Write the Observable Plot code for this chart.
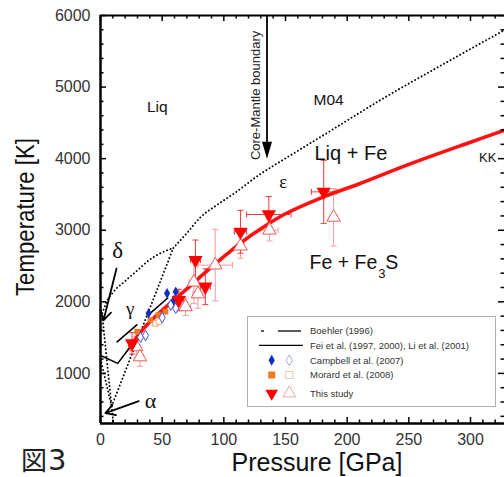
<!DOCTYPE html>
<html><head><meta charset="utf-8">
<script src="https://cdn.jsdelivr.net/npm/d3@7"></script>
<script src="https://cdn.jsdelivr.net/npm/@observablehq/plot@0.6"></script>
<style>
html,body{margin:0;padding:0;background:#fff;}
#wrap{position:relative;width:504px;height:477px;overflow:hidden;font-family:"Liberation Sans",Arial,sans-serif;}
#fig{position:absolute;left:21px;top:445px;font-family:"Noto Sans CJK JP";font-size:26px;color:#222;line-height:28px;height:29px;white-space:nowrap}
#fig span{font-family:"DejaVu Sans";font-size:29px;margin-left:1px}
#legend{position:absolute;left:247px;top:316px;width:249px;height:91px;border:1px solid #b0b0b0;background:#fff;box-sizing:border-box}
</style></head><body>
<div id="wrap"><div id="fig">図<span>3</span></div></div>
<script>
// ---------- data ----------
const xMajor = [0, 50, 100, 150, 200, 250, 300];
const yMajor = [1000, 2000, 3000, 4000, 5000, 6000];
const xMinor = [10,20,30,40,60,70,80,90,110,120,130,140,160,170,180,190,210,220,230,240,260,270,280,290,310,320];
const yMinor = [400,600,800,1200,1400,1600,1800,2200,2400,2600,2800,3200,3400,3600,3800,4200,4400,4600,4800,5200,5400,5600,5800];

// red fitted curve (this study)
const fitP = [24, 30, 40, 50, 60, 70, 85, 100, 115, 130, 150, 180, 210, 250, 300, 328];
const fitT = [1370, 1520, 1720, 1880, 2030, 2180, 2410, 2630, 2840, 3020, 3230, 3460, 3650, 3920, 4230, 4400];

// dotted phase boundaries
const meltLowP = [1.5, 5, 10, 20, 30, 40, 50, 59];
const meltLowT = [1840, 2000, 2130, 2290, 2440, 2590, 2690, 2750];
const m04P = [59, 70, 81, 95, 108, 130, 143, 180, 230, 280, 328];
const m04T = [2750, 2960, 3180, 3360, 3510, 3790, 3930, 4320, 4850, 5340, 5800];
const gammaEpsP = [9, 59];
const gammaEpsT = [540, 2750];
const deltaGammaP = [1.5, 9];
const deltaGammaT = [1800, 540];
const alphaGammaP = [0, 9];
const alphaGammaT = [1200, 540];
const alphaEpsP = [9, 10.5];
const alphaEpsT = [540, 300];

// black lines
const feiP = [0, 14, 24];
const feiT = [1250, 1140, 1370];
const boehlerP = [13.5, 62];
const boehlerT = [1440, 2165];

// this study: filled (down triangles) and open (up triangles)
const filledP  = [25.6, 63.5, 77, 85, 113.5, 136.5, 181];
const filledT  = [1420, 2025, 2583, 2211, 2978, 3220, 3536];
const filledPe = [3, 4, 4, 4, 5, 18, 10];
const filledTe = [150, 150, 280, 250, 300, 250, 440];
const openP  = [29, 32, 69, 75.7, 79, 93, 113.5, 137, 189];
const openT  = [1370, 1230, 1930, 2274, 2110, 2513, 2778, 3000, 3180];
const openPe = [3, 3, 4, 4, 4, 14, 3, 7, 3];
const openTe = [150, 130, 120, 300, 200, 500, 170, 150, 400];

// Campbell et al. (2007)
const campFP = [39, 54, 59.5, 61];
const campFT = [1840, 2118, 2025, 2141];
const campOP = [32.4, 36.5, 50, 57, 61];
const campOT = [1505, 1530, 1780, 1955, 1909];
// Morard et al. (2008)
const morFP = [29.7, 40.5, 47, 52.7];
const morFT = [1583, 1746, 1816, 1862];
const morOP = [44.6, 47.5];
const morOT = [1700, 1723];

// annotations
const labText = ["Liq", "M04", "Liq + Fe", "KK"];
const labP = [46, 185, 203, 314];
const labT = [4719, 4813, 4072, 4016];
const labSize = [15.5, 15.5, 20, 13];
const greekText = ["δ", "γ", "ε", "α"];
const greekP = [14, 24, 148, 40.5];
const greekT = [2717, 1907, 3667, 621];
const greekSize = [23, 19, 18, 22];
const cmbP = 135;           // core-mantle boundary pressure
const cmbTop = 6000, cmbTip = 4000;
const arrowsData = [
  {x1: 13, y1: 2465, x2: 2.4, y2: 1739},
  {x1: 31, y1: 612, x2: 4, y2: 444}
];

// ---------- helpers ----------
const pts = (P, T) => P.map((p, i) => ({p, t: T[i]}));
const errs = (P, T, Pe, Te) => P.map((p, i) => ({p, t: T[i], ep: Pe[i], et: Te[i]}));
const filled = errs(filledP, filledT, filledPe, filledTe);
const open = errs(openP, openT, openPe, openTe);

const W = 504, H = 477, mL = 100, mR = 0, mT = 15, mB = 54;
const pw = W - mL - mR, ph = H - mT - mB;
const xMax = pw / (370 / 300);

const headDown = {draw(ctx){ ctx.moveTo(-5,-17); ctx.lineTo(5,-17); ctx.lineTo(0,0); ctx.closePath(); }};
const hcap = {draw(ctx){ ctx.moveTo(-3,0); ctx.lineTo(3,0); }};
const vcap = {draw(ctx){ ctx.moveTo(0,-3); ctx.lineTo(0,3); }};

const dotted = {stroke: "#000", strokeWidth: 1.9, strokeDasharray: "0.1,3.6", strokeLinecap: "round"};
const sans = "Liberation Sans, Arial, sans-serif";
const serif = "Liberation Serif, Times New Roman, serif";

function errMarks(data, color, width) {
  return [
    Plot.ruleX(data, {x: "p", y1: d => d.t - d.et, y2: d => d.t + d.et, stroke: color, strokeWidth: width}),
    Plot.ruleY(data, {y: "t", x1: d => d.p - d.ep, x2: d => d.p + d.ep, stroke: color, strokeWidth: width}),
    Plot.dot(data, {x: "p", y: d => d.t - d.et, symbol: hcap, stroke: color, strokeWidth: width, r: 3}),
    Plot.dot(data, {x: "p", y: d => d.t + d.et, symbol: hcap, stroke: color, strokeWidth: width, r: 3}),
    Plot.dot(data, {x: d => d.p - d.ep, y: "t", symbol: vcap, stroke: color, strokeWidth: width, r: 3}),
    Plot.dot(data, {x: d => d.p + d.ep, y: "t", symbol: vcap, stroke: color, strokeWidth: width, r: 3})
  ];
}

const chart = Plot.plot({
  width: W, height: H,
  marginLeft: mL, marginRight: mR, marginTop: mT, marginBottom: mB,
  style: {fontFamily: sans, background: "white", overflow: "visible"},
  x: {domain: [0, xMax]},
  y: {domain: [300, 6000]},
  marks: [
    // phase boundaries (dotted)
    Plot.line(pts(meltLowP, meltLowT), {x: "p", y: "t", curve: "monotone-x", ...dotted}),
    Plot.line(pts(m04P, m04T), {x: "p", y: "t", curve: "monotone-x", ...dotted}),
    Plot.line(pts(gammaEpsP, gammaEpsT), {x: "p", y: "t", ...dotted}),
    Plot.line(pts(deltaGammaP, deltaGammaT), {x: "p", y: "t", ...dotted}),
    Plot.line(pts(alphaGammaP, alphaGammaT), {x: "p", y: "t", ...dotted}),
    Plot.line(pts(alphaEpsP, alphaEpsT), {x: "p", y: "t", ...dotted}),
    // black literature lines
    Plot.line(pts(feiP, feiT), {x: "p", y: "t", stroke: "#000", strokeWidth: 1.6}),
    Plot.line(pts(boehlerP, boehlerT), {x: "p", y: "t", stroke: "#000", strokeWidth: 1.6, strokeDasharray: "26,15"}),
    // error bars
    ...errMarks(open, "#f29a9a", 1),
    ...errMarks(filled, "#f03a3a", 1),
    // fitted curve
    Plot.line(pts(fitP, fitT), {x: "p", y: "t", curve: "catmull-rom", stroke: "#ff1111", strokeWidth: 3.6}),
    // Morard & Campbell
    Plot.dot(pts(morOP, morOT), {x: "p", y: "t", symbol: "square", r: 3.2, stroke: "#f0a878", fill: "white", strokeWidth: 1}),
    Plot.dot(pts(morFP, morFT), {x: "p", y: "t", symbol: "square", r: 3.2, fill: "#ee7a22"}),
    Plot.dot(pts(campOP, campOT), {x: "p", y: "t", symbol: "diamond", r: 3.2, stroke: "#3c50d8", fill: "white", strokeWidth: 1}),
    Plot.dot(pts(campFP, campFT), {x: "p", y: "t", symbol: "diamond", r: 3.2, fill: "#1030c0"}),
    // this study
    Plot.dot(open, {x: "p", y: "t", symbol: "triangle", r: 5, stroke: "#ee5a5a", fill: "white", strokeWidth: 1}),
    Plot.dot(filled, {x: "p", y: "t", symbol: "triangle", rotate: 180, r: 5.3, fill: "#ff0000"}),
    // core-mantle boundary arrow
    Plot.ruleX([cmbP], {x: d => d, y1: cmbTop, y2: cmbTip + 150, stroke: "#000", strokeWidth: 1.8}),
    Plot.dot([cmbP], {x: d => d, y: cmbTip, symbol: headDown, fill: "#000", r: 5}),
    Plot.text(["Core-Mantle boundary"], {x: cmbP - 9, y: cmbTip - 20, rotate: -90, textAnchor: "start", lineAnchor: "middle", fontSize: 13, fill: "#222"}),
    // greek arrows
    Plot.arrow(arrowsData, {x1: "x1", y1: "y1", x2: "x2", y2: "y2", stroke: "#000", strokeWidth: 1.8, headLength: 9}),
    // labels
    Plot.text(labText, {x: (d, i) => labP[i], y: (d, i) => labT[i], text: d => d, fontSize: (d, i) => labSize[i], fill: "#111"}),
    Plot.text(greekText, {x: (d, i) => greekP[i], y: (d, i) => greekT[i], text: d => d, fontSize: (d, i) => greekSize[i], fontFamily: serif, fill: "#111"}),
    Plot.text(["Fe + Fe"], {x: 224.4, y: 2549, text: d => d, textAnchor: "end", fontSize: 19.5, fill: "#111"}),
    Plot.text(["3"], {x: 224.4, y: 2549, text: d => d, textAnchor: "start", dx: 1, dy: 11, fontSize: 13, fill: "#111"}),
    Plot.text(["S"], {x: 224.4, y: 2549, text: d => d, textAnchor: "start", dx: 8, fontSize: 19.5, fill: "#111"}),
    // ticks (inward)
    Plot.tickX(xMajor, {x: d => d, insetTop: ph - 6, stroke: "#000", strokeWidth: 1.5}),
    Plot.tickX(xMinor, {x: d => d, insetTop: ph - 3.5, stroke: "#000", strokeWidth: 1.5}),
    Plot.tickX(xMajor, {x: d => d, insetBottom: ph - 6, stroke: "#000", strokeWidth: 1.5}),
    Plot.tickX(xMinor, {x: d => d, insetBottom: ph - 3.5, stroke: "#000", strokeWidth: 1.5}),
    Plot.tickY(yMajor, {y: d => d, insetRight: pw - 6, stroke: "#000", strokeWidth: 1.5}),
    Plot.tickY(yMinor, {y: d => d, insetRight: pw - 3.5, stroke: "#000", strokeWidth: 1.5}),
    Plot.tickY(yMajor, {y: d => d, insetLeft: pw - 6, stroke: "#000", strokeWidth: 1.5}),
    Plot.tickY(yMinor, {y: d => d, insetLeft: pw - 3.5, stroke: "#000", strokeWidth: 1.5}),
    // frame lines
    Plot.ruleX([0], {x: d => d, stroke: "#000", strokeWidth: 2.5}),
    Plot.ruleY([300], {y: d => d, stroke: "#000", strokeWidth: 2.5}),
    Plot.ruleY([6000], {y: d => d, stroke: "#000", strokeWidth: 2}),
    // axes labels
    Plot.axisX({ticks: xMajor, tickSize: 0, tickPadding: 10, fontSize: 16, color: "#333", label: null}),
    Plot.axisY({ticks: yMajor, tickSize: 0, tickPadding: 10, fontSize: 16, color: "#333", label: null, tickFormat: d => String(d)}),
    Plot.text(["Pressure [GPa]"], {frameAnchor: "bottom", dx: 14.5, dy: 47, textAnchor: "middle", lineAnchor: "bottom", fontSize: 25, fill: "#111"}),
    Plot.text(["Temperature [K]"], {frameAnchor: "left", dx: -67, dy: -2.5, rotate: -90, textAnchor: "middle", lineAnchor: "bottom", fontSize: 25, fill: "#111"})
  ]
});
document.getElementById("wrap").prepend(chart);
// condense the y-axis title to the reference's narrow lettering
d3.select(chart).selectAll("text").filter(function(){ return this.textContent === "Temperature [K]"; })
  .attr("textLength", 158).attr("lengthAdjust", "spacingAndGlyphs");

// ---------- legend ----------
const legRows = ["Boehler (1996)", "Fei et al. (1997, 2000), Li et al. (2001)", "Campbell et al. (2007)", "Morard et al. (2008)", "This study"];
const legY = [14, 28.3, 43.3, 58, 76.3];
const leg = d3.select("#wrap").append("div").attr("id", "legend")
  .append("svg").attr("width", 247).attr("height", 89);
const s1 = 23.7, s2 = 41.3;
leg.append("line").attr("x1", 13).attr("x2", 16).attr("y1", legY[0]).attr("y2", legY[0]).attr("stroke", "#000").attr("stroke-width", 1.3);
leg.append("line").attr("x1", 30).attr("x2", 53).attr("y1", legY[0]).attr("y2", legY[0]).attr("stroke", "#000").attr("stroke-width", 1.3);
leg.append("line").attr("x1", 11).attr("x2", 55).attr("y1", legY[1]).attr("y2", legY[1]).attr("stroke", "#000").attr("stroke-width", 1.3);
const sym = (type, size) => d3.symbol().type(type).size(size)();
leg.append("path").attr("d", sym(d3.symbolDiamond, 34)).attr("transform", `translate(${s1},${legY[2]})`).attr("fill", "#1030c0");
leg.append("path").attr("d", sym(d3.symbolDiamond, 34)).attr("transform", `translate(${s2},${legY[2]})`).attr("fill", "none").attr("stroke", "#a0a8ee");
leg.append("rect").attr("x", s1 - 3.5).attr("y", legY[3] - 3.5).attr("width", 7).attr("height", 7).attr("fill", "#ee7a22");
leg.append("rect").attr("x", s2 - 3.5).attr("y", legY[3] - 3.5).attr("width", 7).attr("height", 7).attr("fill", "none").attr("stroke", "#f2c6a8");
leg.append("path").attr("d", sym(d3.symbolTriangle, 70)).attr("transform", `translate(${s1},${legY[4]}) rotate(180)`).attr("fill", "#ff0000");
leg.append("path").attr("d", sym(d3.symbolTriangle, 70)).attr("transform", `translate(${s2},${legY[4]})`).attr("fill", "none").attr("stroke", "#f4a0a0");
leg.selectAll("text.lab").data(legRows).join("text").attr("class", "lab")
  .attr("x", 62).attr("y", (d, i) => legY[i]).attr("dy", "0.35em")
  .attr("font-size", 9.5).attr("fill", "#333").attr("font-family", sans).text(d => d);
</script>
</body></html>
